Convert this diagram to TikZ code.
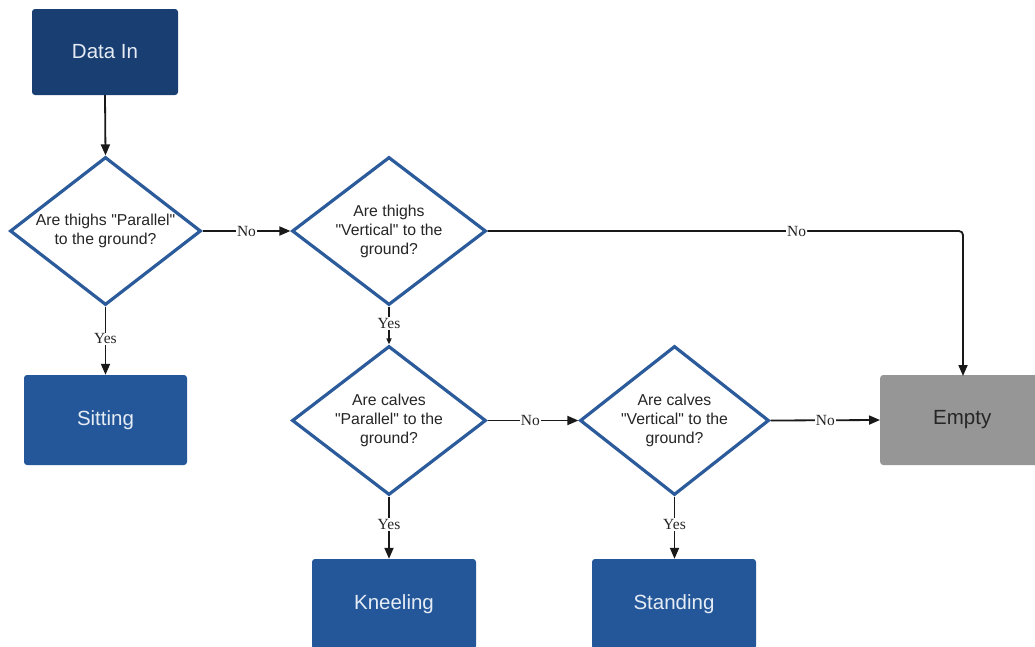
\documentclass[tikz,border=0pt]{standalone}
\usepackage{fontspec}
\setmainfont{Liberation Sans}
\newfontfamily\labelfont{Liberation Serif}
% same face without the TeX ligature mapping, for straight quotes
\newfontfamily\quotefont{Liberation Sans}
\usetikzlibrary{shapes.geometric,arrows.meta}
\definecolor{navy}{HTML}{183E72}
\definecolor{boxblue}{HTML}{23579A}
\definecolor{rimblue}{HTML}{2B5B9B}
\definecolor{boxgray}{HTML}{969696}
\definecolor{boxtext}{HTML}{E6ECF4}
\newcommand\sq{{\quotefont"}}
\tikzset{
  stepbox/.style={rectangle, rounded corners=3pt, fill=boxblue, text=boxtext,
    font=\fontsize{20.5}{24}\selectfont, inner sep=0pt},
  question/.style={diamond, aspect=1.3, draw=rimblue, line width=3.2pt, fill=white,
    align=center, inner sep=0pt, text=black!85,
    font=\fontsize{15.8}{19}\selectfont},
  flow/.style={line width=1.8pt, black!90, -{Triangle[length=11pt,width=9pt]}},
  tag/.style={fill=white, inner sep=1pt, font=\labelfont\fontsize{15.5}{17}\selectfont, text=black!85}
}
\begin{document}
\begin{tikzpicture}[x=1pt,y=-1pt]
  \useasboundingbox (0,0) rectangle (1035,646);
  \clip (0,0) rectangle (1035,646);

  % start and result boxes
  \node[stepbox, fill=navy, minimum width=146pt, minimum height=86pt] (din) at (105,52) {Data In};
  \node[stepbox, minimum width=163pt, minimum height=90pt] (sit) at (105.5,420) {Sitting};
  \node[stepbox, fill=boxgray, text=black!85, minimum width=160pt, minimum height=90pt, anchor=west] (empty) at (880,420) {\hspace*{4pt}Empty};
  \node[stepbox, minimum width=164pt, minimum height=90pt] (kneel) at (394,604) {Kneeling};
  \node[stepbox, minimum width=164pt, minimum height=90pt] (stand) at (674,604) {Standing};

  % decisions
  \node[question, minimum width=191pt, minimum height=148pt] (d1) at (105.5,231)
    {Are thighs \sq Parallel\sq\\to the ground?};
  \node[question, minimum width=194pt, minimum height=148pt] (d2) at (389,231)
    {Are thighs\\\sq Vertical\sq\ to the\\ground?};
  \node[question, minimum width=194pt, minimum height=149pt] (d3) at (389,420.5)
    {Are calves\\\sq Parallel\sq\ to the\\ground?};
  \node[question, minimum width=189pt, minimum height=149pt] (d4) at (674.5,420.5)
    {Are calves\\\sq Vertical\sq\ to the\\ground?};

  \coordinate (emptytop) at (963,376);

  % connectors
  \draw[flow] (din.south) -- (d1.north);
  \draw[flow] (d1.east) -- node[tag] {No} (d2.west);
  \draw[flow] (d1.south) -- node[tag, pos=0.47] {Yes} (sit.north);
  \draw[flow, -{Triangle[length=6pt,width=5pt]}] (d2.south) -- node[tag, pos=0.45] {Yes} (d3.north);
  \draw[flow, rounded corners=4pt] (d2.east) -- node[tag, pos=0.65] {No} (d2.east -| emptytop) -- (emptytop);
  \draw[flow] (d3.east) -- node[tag, pos=0.47] {No} (d4.west);
  \draw[flow] (d4.east) -- node[tag, pos=0.5] {No} (empty.west);
  \draw[flow] (d3.south) -- node[tag, pos=0.45] {Yes} (d3.south |- kneel.north);
  \draw[flow] (d4.south) -- node[tag, pos=0.45] {Yes} (d4.south |- stand.north);
\end{tikzpicture}
\end{document}
